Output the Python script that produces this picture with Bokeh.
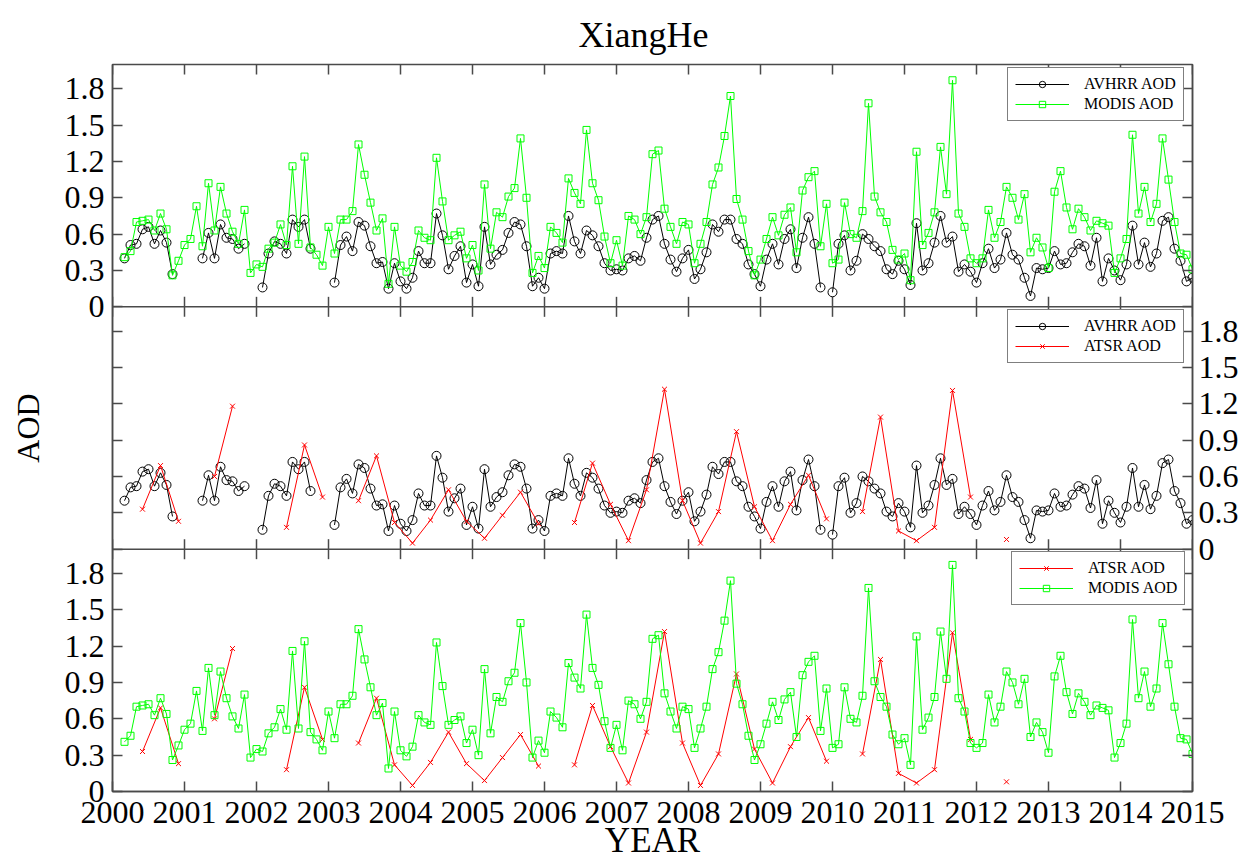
import numpy as np
from bokeh.plotting import figure
from bokeh.models import Range1d, LinearAxis, FixedTicker, Span, Legend, LegendItem
from bokeh.embed import file_html
from bokeh.resources import INLINE

nan = float("nan")

title_text = "XiangHe"
x_title = "YEAR"
y_title = "AOD"
years = list(range(2000, 2016))
year_labels = [str(y) for y in years]
aod_ticks = [0, 0.3, 0.6, 0.9, 1.2, 1.5, 1.8]
aod_tick_labels = ["0", "0.3", "0.6", "0.9", "1.2", "1.5", "1.8"]

# monthly series, Jan 2000 .. Dec 2014 (month index 1..180)
start_year = 2000
avhrr_aod = [
    nan, 0.40, 0.51, 0.52, 0.64, 0.66, 0.52, 0.63, 0.53, 0.27,
    nan, nan, nan, nan, 0.40, 0.61, 0.40, 0.68, 0.57, 0.56,
    0.48, 0.52, nan, nan, 0.16, 0.44, 0.54, 0.52, 0.44, 0.72,
    0.66, 0.72, 0.48, nan, nan, nan, 0.20, 0.51, 0.58, 0.46,
    0.70, 0.67, 0.50, 0.36, 0.37, 0.15, 0.36, 0.21, 0.15, 0.24,
    0.46, 0.36, 0.36, 0.77, 0.59, 0.31, 0.42, 0.50, 0.20, 0.35,
    0.17, 0.66, 0.35, 0.43, 0.47, 0.61, 0.70, 0.68, 0.50, 0.17,
    0.24, 0.15, 0.44, 0.46, 0.44, 0.75, 0.54, 0.44, 0.63, 0.59,
    0.50, 0.36, 0.30, 0.31, 0.30, 0.40, 0.42, 0.38, 0.57, 0.72,
    0.75, 0.52, 0.39, 0.29, 0.40, 0.47, 0.23, 0.31, 0.45, 0.68,
    0.62, 0.72, 0.72, 0.56, 0.52, 0.35, 0.27, 0.17, 0.39, 0.52,
    0.35, 0.56, 0.64, 0.32, 0.57, 0.74, 0.52, 0.16, nan, 0.12,
    0.52, 0.59, 0.30, 0.38, 0.60, 0.56, 0.50, 0.46, 0.31, 0.27,
    0.38, 0.31, 0.18, 0.69, 0.30, 0.36, 0.53, 0.75, 0.53, 0.58,
    0.29, 0.35, 0.29, 0.20, 0.36, 0.48, 0.32, 0.39, 0.61, 0.43,
    0.39, 0.24, 0.09, 0.32, 0.31, 0.32, 0.46, 0.35, 0.36, 0.45,
    0.52, 0.50, 0.34, 0.57, 0.21, 0.40, 0.30, 0.22, 0.35, 0.67,
    0.35, 0.53, 0.33, 0.44, 0.71, 0.74, 0.48, 0.38, 0.21, 0.24,
]
modis_aod = [
    nan, 0.41, 0.46, 0.70, 0.71, 0.72, 0.63, 0.77, 0.64, 0.26,
    0.38, 0.51, 0.56, 0.83, 0.50, 1.02, 0.63, 0.99, 0.77, 0.62,
    0.52, 0.80, 0.28, 0.35, 0.33, 0.48, 0.53, 0.68, 0.51, 1.16,
    0.52, 1.24, 0.49, 0.43, 0.34, 0.66, 0.44, 0.72, 0.72, 0.79,
    1.34, 1.09, 0.86, 0.63, 0.73, 0.19, 0.66, 0.34, 0.29, 0.37,
    0.63, 0.57, 0.55, 1.23, 0.87, 0.55, 0.59, 0.62, 0.40, 0.51,
    0.30, 1.01, 0.48, 0.78, 0.74, 0.91, 0.98, 1.39, 0.90, 0.28,
    0.42, 0.32, 0.66, 0.61, 0.53, 1.06, 0.94, 0.85, 1.46, 1.02,
    0.88, 0.58, 0.36, 0.55, 0.34, 0.75, 0.72, 0.60, 0.74, 1.26,
    1.29, 0.81, 0.66, 0.52, 0.70, 0.68, 0.36, 0.52, 0.70, 1.01,
    1.15, 1.41, 1.74, 0.89, 0.72, 0.46, 0.26, 0.39, 0.56, 0.74,
    0.59, 0.76, 0.82, 0.45, 0.96, 1.07, 1.12, 0.50, 0.85, 0.36,
    0.39, 0.86, 0.60, 0.57, 0.79, 1.68, 0.91, 0.78, 0.70, 0.47,
    0.39, 0.44, 0.22, 1.28, 0.51, 0.61, 0.78, 1.32, 0.93, 1.87,
    0.77, 0.66, 0.40, 0.36, 0.40, 0.80, 0.57, 0.70, 0.99, 0.90,
    0.72, 0.93, 0.45, 0.57, 0.49, 0.32, 0.95, 1.12, 0.82, 0.64,
    0.81, 0.74, 0.63, 0.71, 0.69, 0.67, 0.28, 0.40, 0.56, 1.42,
    0.77, 0.99, 0.70, 0.85, 1.39, 1.05, 0.70, 0.44, 0.43, 0.31,
]
# ATSR: seasonal values (month index from Jan 2000 = 1); nan marks a break
atsr_month = [5, 8, 11, 14, 17, 20, 23, 29, 32, 35, 38, 41, 44, 47, 50, 53, 56, 59,
              62, 65, 68, 71, 74, 77, 80, 83, 86, 89, 92, 95, 98, 101, 104, 107,
              110, 113, 116, 119, 122, 125, 128, 131, 134, 137, 140, 143, 146, 149]
atsr_aod = [0.33, 0.69, 0.23, nan, 0.60, 1.18, nan, 0.18, 0.86, 0.43, nan, 0.40,
            0.77, 0.22, 0.05, 0.24, 0.49, 0.23, 0.09, 0.28, 0.47, 0.21, nan, 0.22,
            0.71, 0.37, 0.07, 0.49, 1.32, 0.40, 0.05, 0.31, 0.97, 0.35, 0.07, 0.37,
            0.61, 0.25, nan, 0.31, 1.09, 0.15, 0.07, 0.18, 1.31, 0.43, nan, 0.08]

months_x = np.array([start_year + (i + 1) / 12.0 for i in range(len(avhrr_aod))])
atsr_x = np.array([start_year + m / 12.0 for m in atsr_month])
avhrr = np.array(avhrr_aod, dtype=float)
modis = np.array(modis_aod, dtype=float)
atsr = np.array(atsr_aod, dtype=float)

FONT = "Liberation Serif"
AX = "#4a4a4a"
GREEN = "#00ff00"
RED = "#ff0000"

W, H = 1242, 862
BL, BR, BT, BB = 112, 50, 64, 71
FH = H - BT - BB

p = figure(width=W, height=H, x_range=Range1d(2000, 2015), y_range=Range1d(0, 6),
           output_backend="svg", toolbar_location=None,
           x_axis_location=None, y_axis_location=None,
           min_border_left=BL, min_border_right=BR, min_border_top=BT, min_border_bottom=BB)
p.extra_y_ranges = {"p1": Range1d(-4, 2), "p2": Range1d(-2, 4)}
p.grid.visible = False
p.outline_line_color = AX
p.outline_line_width = 1.5
p.background_fill_color = "white"
p.border_fill_color = "white"

p.title.text = title_text
p.title.align = "left"
p.title.offset = 466
p.title.text_font = FONT
p.title.text_font_size = "36px"
p.title.text_font_style = "normal"
p.title.text_color = "black"
p.title.standoff = 19

# ---- axes ----
left_ticks, left_over, right_ticks, right_over = [], {}, [], {}
for off, show_left, show_right in [(0.0, True, False), (2.0, False, True), (4.0, True, False)]:
    for t, lab in zip(aod_ticks, aod_tick_labels):
        v = off + t
        left_ticks.append(v)
        left_over[v] = lab if show_left else ""
        right_ticks.append(v)
        right_over[v] = lab if show_right else ""


def style_axis(ax):
    ax.axis_line_color = AX
    ax.axis_line_width = 1.5
    ax.major_tick_line_color = AX
    ax.major_tick_line_width = 1.5
    ax.major_tick_in = 10
    ax.major_tick_out = 0
    ax.minor_tick_line_color = None
    ax.major_label_text_font = FONT
    ax.major_label_text_font_size = "32px"
    ax.major_label_text_color = "black"
    ax.axis_label_text_font = FONT
    ax.axis_label_text_font_size = "32px"
    ax.axis_label_text_font_style = "normal"
    ax.axis_label_text_color = "black"


yl = LinearAxis(ticker=FixedTicker(ticks=left_ticks), major_label_overrides=left_over,
                axis_label=y_title)
style_axis(yl)
yl.major_label_standoff = 8
yl.axis_label_standoff = 16
p.add_layout(yl, "left")

yr = LinearAxis(ticker=FixedTicker(ticks=right_ticks), major_label_overrides=right_over)
style_axis(yr)
yr.major_label_standoff = 6
p.add_layout(yr, "right")

xb = LinearAxis(ticker=FixedTicker(ticks=years),
                major_label_overrides={y: s for y, s in zip(years, year_labels)},
                axis_label=x_title)
style_axis(xb)
xb.major_label_text_font_size = "32px"
xb.axis_label_text_font_size = "35px"
xb.major_label_standoff = 10
xb.axis_label_standoff = -5
p.add_layout(xb, "below")

# panel separators and inner year ticks
for loc in (2.0, 4.0):
    p.add_layout(Span(location=loc, dimension="width", line_color=AX, line_width=1.5))
tl = 6.0 / FH * 10
yrs = np.array(years, dtype=float)
for loc, lo, hi in [(2.0, 2.0 - tl, 2.0 + tl), (4.0, 4.0 - tl, 4.0 + tl), (6.0, 6.0 - tl, 6.0)]:
    p.segment(x0=yrs, y0=np.full(len(yrs), lo), x1=yrs, y1=np.full(len(yrs), hi),
              line_color=AX, line_width=1.5)


# ---- series ----
def series(x, y, rng, color, marker, size):
    ln = p.line(x, y, y_range_name=rng, line_color=color, line_width=1)
    sc = p.scatter(x, y, y_range_name=rng, marker=marker, size=size,
                   fill_color=None, line_color=color, line_width=1)
    return [ln, sc]


# panel 1
r_av1 = series(months_x, avhrr, "p1", "black", "circle", 9)
r_mo1 = series(months_x, modis, "p1", GREEN, "square", 7)
# panel 2
r_av2 = series(months_x, avhrr, "p2", "black", "circle", 9)
r_at2 = series(atsr_x, atsr, "p2", RED, "x", 7)
# panel 3
r_at3 = series(atsr_x, atsr, "default", RED, "x", 7)
r_mo3 = series(months_x, modis, "default", GREEN, "square", 7)


def make_legend(items, loc):
    lg = Legend(items=items, location=loc, orientation="vertical")
    lg.label_text_font = FONT
    lg.label_text_font_size = "16px"
    lg.label_text_color = "black"
    lg.border_line_color = "black"
    lg.border_line_width = 1
    lg.background_fill_color = "white"
    lg.background_fill_alpha = 1
    lg.glyph_width = 54
    lg.glyph_height = 16
    lg.label_height = 16
    lg.label_standoff = 15
    lg.padding = 7
    lg.spacing = 2
    lg.margin = 0
    p.add_layout(lg, "center")


make_legend([LegendItem(label="AVHRR AOD", renderers=r_av1),
             LegendItem(label="MODIS AOD", renderers=r_mo1)], (895, 670))
make_legend([LegendItem(label="AVHRR AOD", renderers=r_av2),
             LegendItem(label="ATSR AOD", renderers=r_at2)], (895, 428))
make_legend([LegendItem(label="ATSR AOD", renderers=r_at3),
             LegendItem(label="MODIS AOD", renderers=r_mo3)], (899, 186))

open("out.html", "w").write(file_html(p, INLINE))
